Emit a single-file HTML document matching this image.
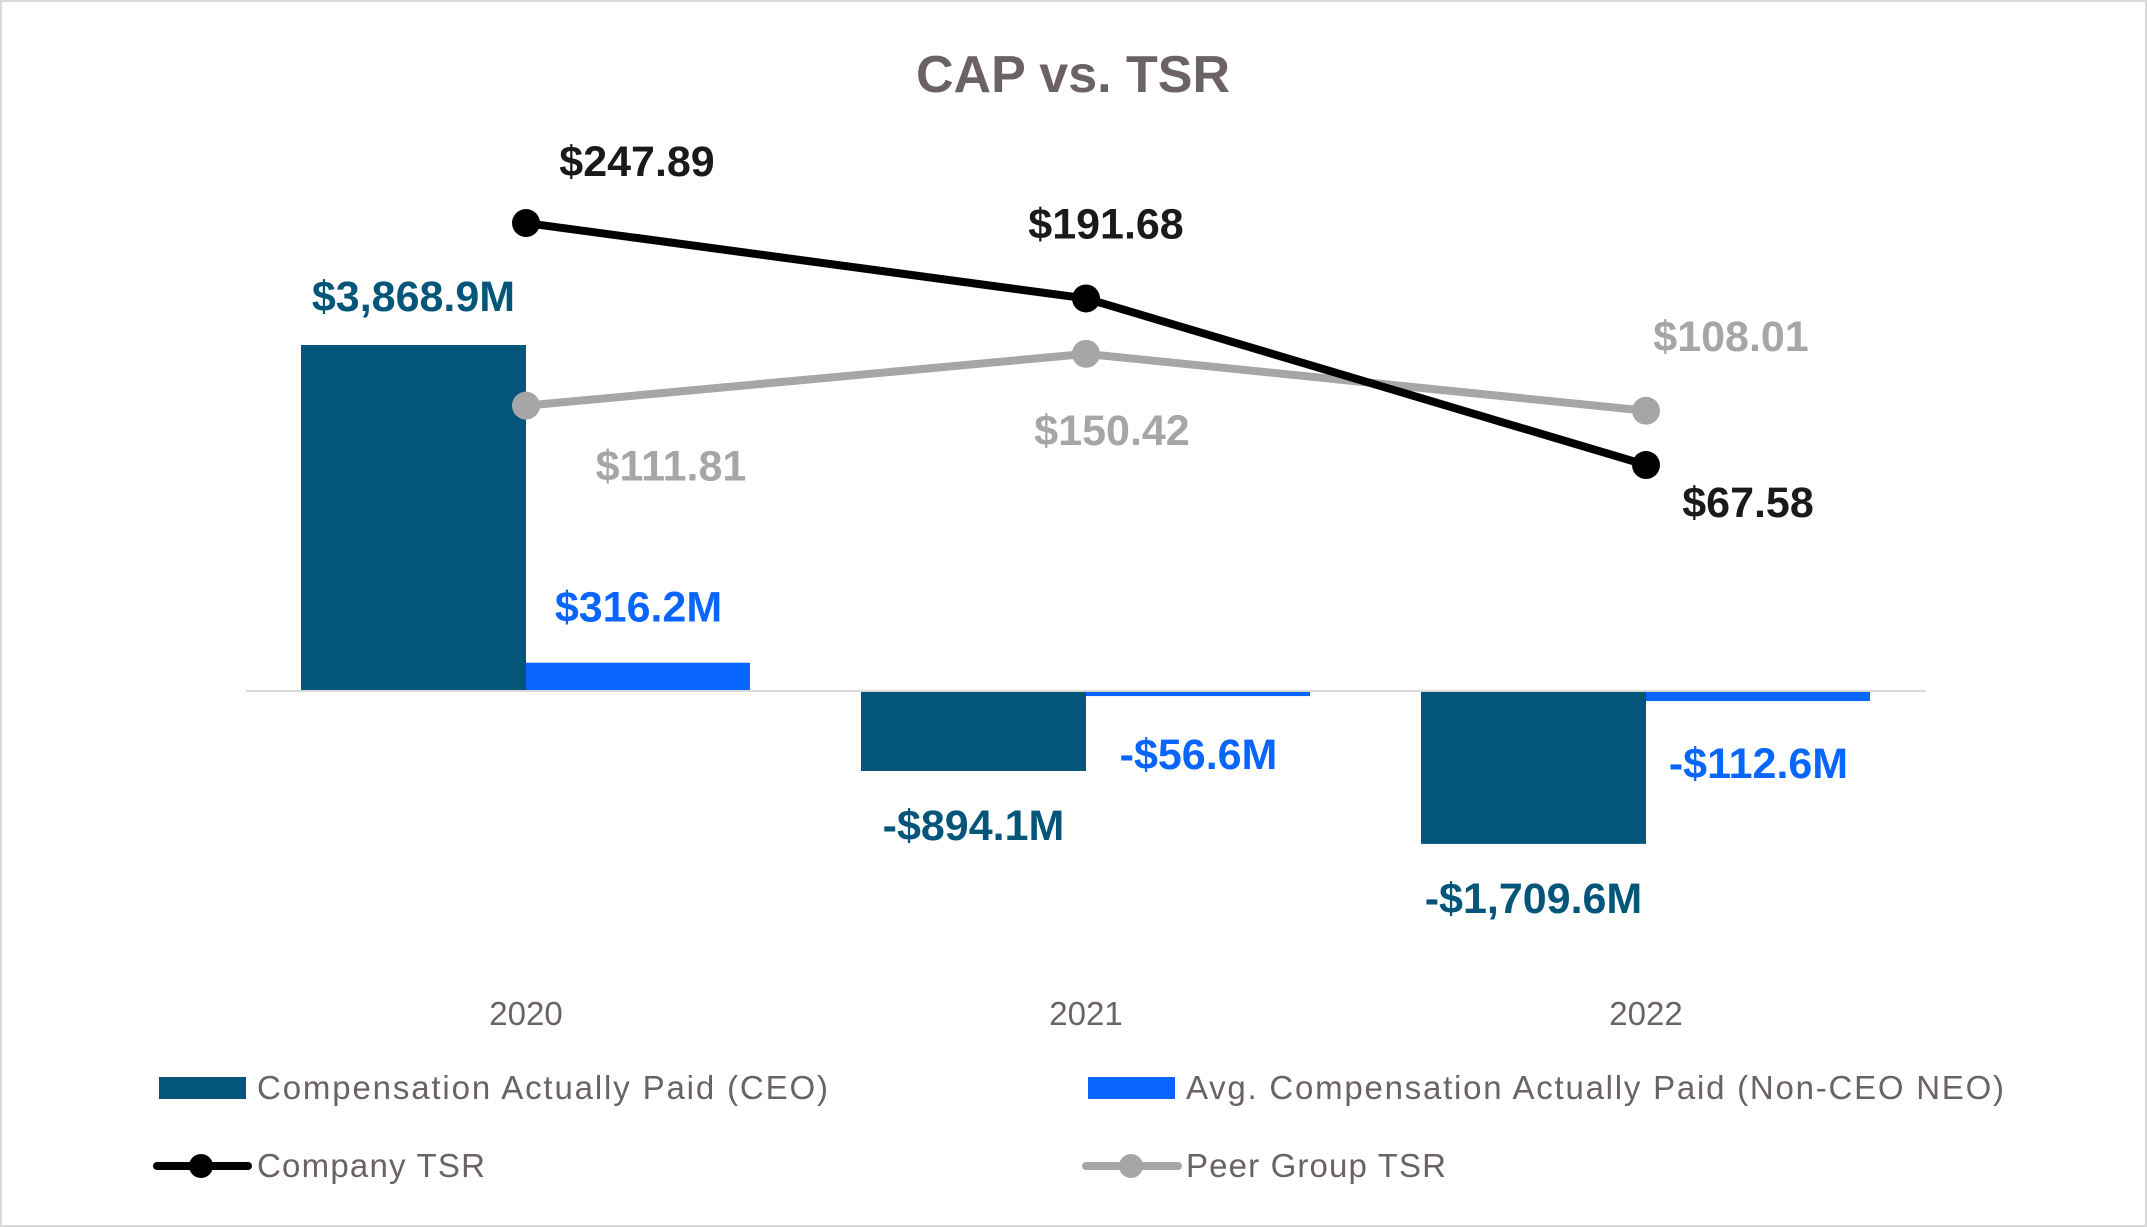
<!DOCTYPE html>
<html><head><meta charset="utf-8"><style>
html,body{margin:0;padding:0;background:#fff}
svg{display:block}
text{font-family:"Liberation Sans",sans-serif}
</style></head><body>
<svg id="chart" width="2147" height="1227" viewBox="0 0 2147 1227">
<rect x="1" y="1" width="2145" height="1225" fill="#fff" stroke="#d9d9d9" stroke-width="2"/>
<text x="1073" y="92" text-anchor="middle" font-size="52" font-weight="bold" fill="#6b6264">CAP vs. TSR</text>
<g id="plot"></g>
<g>
<rect x="159" y="1077" width="87" height="22" fill="#03557a"/>
<text x="257" y="1099" font-size="33" fill="#6b6264" textLength="571">Compensation Actually Paid (CEO)</text>
<rect x="1088" y="1077" width="87" height="22" fill="#0866ff"/>
<text x="1186" y="1099" font-size="33" fill="#6b6264" textLength="818">Avg. Compensation Actually Paid (Non-CEO NEO)</text>
<line x1="157" y1="1166" x2="248" y2="1166" stroke="#000" stroke-width="8" stroke-linecap="round"/>
<circle cx="201" cy="1166" r="12" fill="#000"/>
<text x="257" y="1177" font-size="33" fill="#6b6264" textLength="228">Company TSR</text>
<line x1="1086" y1="1166" x2="1178" y2="1166" stroke="#a6a6a6" stroke-width="8" stroke-linecap="round"/>
<circle cx="1131" cy="1166" r="12" fill="#a6a6a6"/>
<text x="1186" y="1177" font-size="33" fill="#6b6264" textLength="260">Peer Group TSR</text>
</g>
</svg>
<script>
const categories = ["2020", "2021", "2022"];
const ceoCap = [3868.9, -894.1, -1709.6];
const neoCap = [316.2, -56.6, -112.6];
const companyTsr = [247.89, 191.68, 67.58];
const peerTsr = [111.81, 150.42, 108.01];
const ceoLabels = ["$3,868.9M", "-$894.1M", "-$1,709.6M"];
const neoLabels = ["$316.2M", "-$56.6M", "-$112.6M"];
const companyLabels = ["$247.89", "$191.68", "$67.58"];
const peerLabels = ["$111.81", "$150.42", "$108.01"];

const NS = "http://www.w3.org/2000/svg";
const plot = document.getElementById("plot");
const x0 = 526, step = 560, barW = 225;
const zeroY = 691, capScale = (691 - 345) / 3868.9;
const tsrY0 = 555.7, tsrScale = 1.342;
function xC(i){ return x0 + i * step; }
function yCap(v){ return zeroY - v * capScale; }
function yTsr(v){ return tsrY0 - v * tsrScale; }
function mk(tag, attrs){ const e = document.createElementNS(NS, tag); for (const k in attrs) e.setAttribute(k, attrs[k]); plot.appendChild(e); return e; }
function txt(x, y, s, size, color, bold){ const t = mk("text", {x: x, y: y, "text-anchor": "middle", "font-size": size, fill: color, "font-weight": bold ? "bold" : "normal"}); t.textContent = s; return t; }

categories.forEach((c, i) => {
  const cx = xC(i);
  const y1 = yCap(ceoCap[i]);
  const b = mk("rect", {x: cx - barW, y: Math.min(y1, zeroY), width: barW, height: Math.abs(y1 - zeroY), fill: "#03557a"});
  
  
  const y2 = yCap(neoCap[i]);
  const b2 = mk("rect", {x: cx, y: Math.min(y2, zeroY), width: barW - 1, height: Math.max(3, Math.abs(y2 - zeroY)), fill: "#0866ff"});
  
  
  const lab = txt(cx, 1025, c, 33, "#6b6264", false);
  
  
});
const zl = mk("line", {x1: 246, y1: zeroY, x2: 1926, y2: zeroY, stroke: "#d9d9d9", "stroke-width": 2});



function series(vals, color, name){
  const pts = vals.map((v, i) => xC(i) + "," + yTsr(v)).join(" ");
  const l = mk("polyline", {points: pts, fill: "none", stroke: color, "stroke-width": 8, "stroke-linejoin": "round"});
  
  
  vals.forEach((v, i) => {
    const p = mk("circle", {cx: xC(i), cy: yTsr(v), r: 14, fill: color});
    
    
  });
}
series(peerTsr, "#a6a6a6", "peer-tsr");
series(companyTsr, "#000000", "company-tsr");

const ceoDy = [-34, 69, 69];
ceoLabels.forEach((s, i) => {
  const t = txt(xC(i) - barW / 2, yCap(ceoCap[i]) + ceoDy[i], s, 43, "#03557a", true);
  
  
});
const neoDy = [-41, 73, 77];
neoLabels.forEach((s, i) => {
  const t = txt(xC(i) + barW / 2, yCap(neoCap[i]) + neoDy[i], s, 43, "#0866ff", true);
  
  
});
const compDx = [111, 20, 102], compDy = [-47, -60, 52];
companyLabels.forEach((s, i) => {
  const t = txt(xC(i) + compDx[i], yTsr(companyTsr[i]) + compDy[i], s, 43, "#1a1a1a", true);
  
  
});
const peerDx = [145, 26, 85], peerDy = [75, 91, -60];
peerLabels.forEach((s, i) => {
  const t = txt(xC(i) + peerDx[i], yTsr(peerTsr[i]) + peerDy[i], s, 43, "#a6a6a6", true);
  
  
});
</script>
</body></html>
